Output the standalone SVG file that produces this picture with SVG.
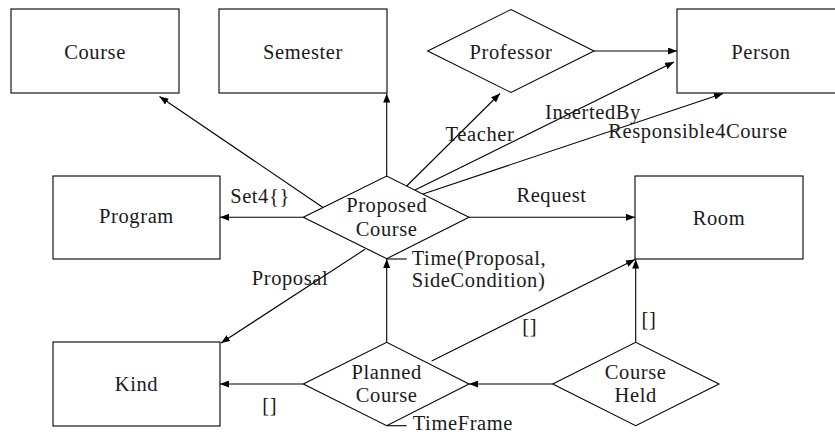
<svg xmlns="http://www.w3.org/2000/svg" width="835" height="435" viewBox="0 0 835 435">
<style>
  .box{fill:#fff;stroke:#000;stroke-width:1.1}
  .t{font-family:"Liberation Serif","Times New Roman",serif;font-size:20.5px;letter-spacing:0.6px;fill:#1a1a1a;text-anchor:middle}
  .l{font-family:"Liberation Serif","Times New Roman",serif;font-size:20.5px;letter-spacing:0.6px;fill:#1a1a1a}
  .c{fill:none;stroke:#000;stroke-width:1.1}
</style>
<defs>
  <marker id="ah" markerUnits="userSpaceOnUse" markerWidth="9" markerHeight="7" viewBox="0 0 9 7" refX="9" refY="3.5" orient="auto">
    <path d="M0,0 L9,3.5 L0,7 z" fill="#000"/>
  </marker>
</defs>
<rect width="835" height="435" fill="#fff"/>

<g id="course"><rect class="box" x="11" y="9" width="168" height="84"/><text class="t" x="95" y="58.5">Course</text></g>
<g id="semester"><rect class="box" x="219" y="9" width="168" height="84"/><text class="t" x="303" y="58.5">Semester</text></g>
<g id="professor"><polygon class="box" points="427.7,51 511,9.5 594,51 511,92.5"/><text class="t" x="511" y="58.5">Professor</text></g>
<g id="person"><rect class="box" x="677" y="9" width="168" height="84"/><text class="t" x="761" y="58.5">Person</text></g>
<g id="program"><rect class="box" x="53" y="176" width="167" height="83"/><text class="t" x="136.5" y="222.5">Program</text></g>
<g id="proposed-course"><polygon class="box" points="303.3,217.3 386.7,176 469,217.3 386.7,258.7"/><text class="t" x="386.7" y="211.5">Proposed</text><text class="t" x="386.7" y="235.5">Course</text></g>
<g id="room"><rect class="box" x="635" y="176" width="168" height="83"/><text class="t" x="719" y="224.5">Room</text></g>
<g id="kind"><rect class="box" x="53" y="342" width="167" height="84"/><text class="t" x="136.5" y="391">Kind</text></g>
<g id="planned-course"><polygon class="box" points="303.3,384 386.7,342.3 469,384 386.7,425.7"/><text class="t" x="386.7" y="379.2">Planned</text><text class="t" x="386.7" y="401.7">Course</text></g>
<g id="course-held"><polygon class="box" points="552.7,384 635.7,342.3 719,384 635.7,425.7"/><text class="t" x="635.7" y="379.2">Course</text><text class="t" x="635.7" y="401.7">Held</text></g>

<g id="connectors">
  <line class="c" x1="323" y1="207.5" x2="159.5" y2="96.5" marker-end="url(#ah)"/>
  <line class="c" x1="386.7" y1="176" x2="386.7" y2="93.5" marker-end="url(#ah)"/>
  <line class="c" x1="406.7" y1="186" x2="500" y2="93.5" marker-end="url(#ah)"/>
  <line class="c" x1="594" y1="51" x2="677" y2="51" marker-end="url(#ah)"/>
  <line class="c" x1="415" y1="190" x2="674" y2="62" marker-end="url(#ah)"/>
  <line class="c" x1="423" y1="194" x2="723" y2="93.5" marker-end="url(#ah)"/>
  <line class="c" x1="303.3" y1="217.3" x2="220" y2="217.3" marker-end="url(#ah)"/>
  <line class="c" x1="469" y1="217.3" x2="635" y2="217.3" marker-end="url(#ah)"/>
  <line class="c" x1="365" y1="249.3" x2="221" y2="343" marker-end="url(#ah)"/>
  <line class="c" x1="386.7" y1="342.3" x2="386.7" y2="259" marker-end="url(#ah)"/>
  <line class="c" x1="386.7" y1="259" x2="406.7" y2="259"/>
  <line class="c" x1="303.3" y1="384" x2="220" y2="384" marker-end="url(#ah)"/>
  <line class="c" x1="431.7" y1="361" x2="635" y2="259.5" marker-end="url(#ah)"/>
  <line class="c" x1="552.7" y1="384" x2="469" y2="384" marker-end="url(#ah)"/>
  <line class="c" x1="635.7" y1="342.3" x2="635.7" y2="259.5" marker-end="url(#ah)"/>
  <line class="c" x1="386.7" y1="425.7" x2="406.7" y2="425.7"/>

  <text class="t" x="480" y="141">Teacher</text>
  <text class="t" x="593" y="119">InsertedBy</text>
  <text class="t" x="698" y="138">Responsible4Course</text>
  <text class="t" x="260" y="203">Set4{}</text>
  <text class="t" x="551.5" y="202">Request</text>
  <text class="t" x="290" y="285">Proposal</text>
  <text class="l" x="411.7" y="264.5">Time(Proposal,</text>
  <text class="l" x="411.7" y="287">SideCondition)</text>
  <text class="t" x="269.7" y="412">[]</text>
  <text class="t" x="529.7" y="333">[]</text>
  <text class="t" x="649" y="326">[]</text>
  <text class="l" x="412.7" y="430.3">TimeFrame</text>
</g>
</svg>
